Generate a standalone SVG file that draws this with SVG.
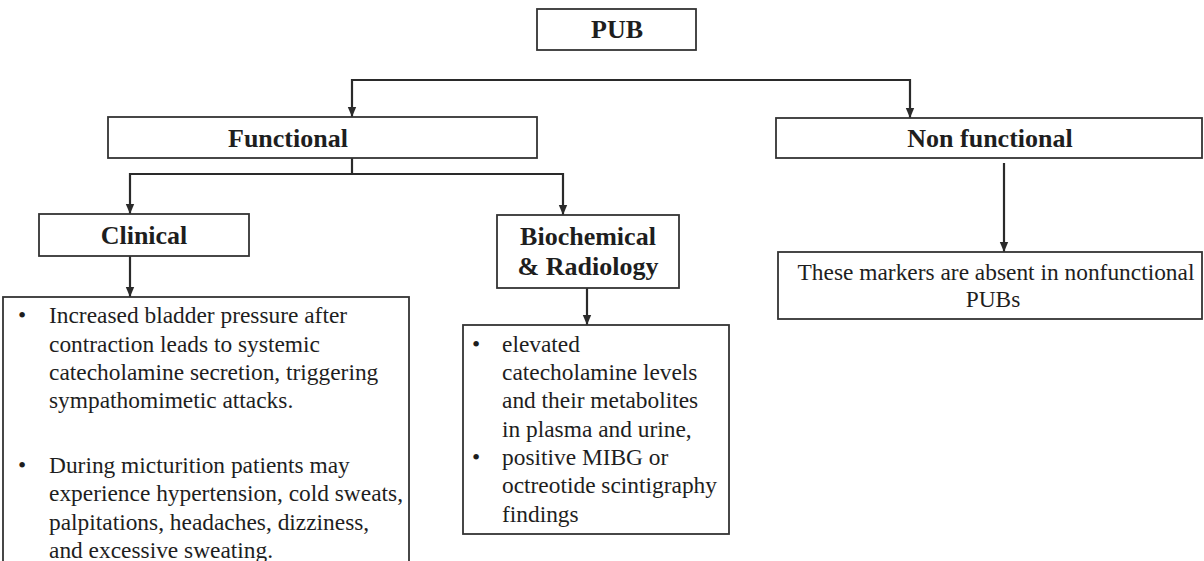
<svg xmlns="http://www.w3.org/2000/svg" width="1204" height="561" viewBox="0 0 1204 561">
<style>
.box{fill:#fff;stroke:#333;stroke-width:1.8}
.h{font-family:"Liberation Serif","Times New Roman",serif;font-weight:bold;font-size:26px;fill:#1e1e1e}
.t{font-family:"Liberation Serif","Times New Roman",serif;font-size:23.4px;fill:#1e1e1e}
.c{text-anchor:middle}
.ln{fill:none;stroke:#2a2a2a;stroke-width:2.2}
</style>
<defs>
<marker id="arr" markerUnits="userSpaceOnUse" markerWidth="10" markerHeight="10" viewBox="0 0 10 10" refX="10" refY="5" orient="auto">
<path d="M0,0.8 L10,5 L0,9.2 z" fill="#2a2a2a"/>
</marker>
</defs>
<rect width="1204" height="561" fill="#fff"/>
<g id="connectors">
<path class="ln" d="M631,80 H352 V117" marker-end="url(#arr)"/>
<path class="ln" d="M631,80 H910 V118" marker-end="url(#arr)"/>
<path class="ln" d="M352,158 V174"/>
<path class="ln" d="M352,174 H130 V214" marker-end="url(#arr)"/>
<path class="ln" d="M352,174 H563 V215" marker-end="url(#arr)"/>
<path class="ln" d="M130,256 V297" marker-end="url(#arr)"/>
<path class="ln" d="M587,288 V325" marker-end="url(#arr)"/>
<path class="ln" d="M1004,163 V252" marker-end="url(#arr)"/>
</g>
<g id="pub">
<rect class="box" x="537" y="9" width="159" height="41"/>
<text class="h c" x="617" y="38">PUB</text>
</g>
<g id="functional">
<rect class="box" x="108" y="117" width="429" height="41"/>
<text class="h" x="228" y="147">Functional</text>
</g>
<g id="nonfunctional">
<rect class="box" x="776" y="118" width="426" height="40"/>
<text class="h c" x="990" y="147">Non functional</text>
</g>
<g id="clinical">
<rect class="box" x="39" y="214" width="210" height="42"/>
<text class="h c" x="144" y="244">Clinical</text>
</g>
<g id="biochemical">
<rect class="box" x="497" y="215" width="182" height="73"/>
<text class="h c" x="588" y="245">Biochemical</text>
<text class="h c" x="588" y="275">&amp; Radiology</text>
</g>
<g id="clinical-list">
<rect class="box" x="3" y="297" width="406" height="280"/>
<text class="t" x="18" y="323">•</text>
<text class="t" x="49" y="323">Increased bladder pressure after</text>
<text class="t" x="49" y="352">contraction leads to systemic</text>
<text class="t" x="49" y="380">catecholamine secretion, triggering</text>
<text class="t" x="49" y="408">sympathomimetic attacks.</text>
<text class="t" x="18" y="473">•</text>
<text class="t" x="49" y="473">During micturition patients may</text>
<text class="t" x="49" y="501">experience hypertension, cold sweats,</text>
<text class="t" x="49" y="530">palpitations, headaches, dizziness,</text>
<text class="t" x="49" y="558">and excessive sweating.</text>
</g>
<g id="biochemical-list">
<rect class="box" x="463" y="325" width="266" height="209"/>
<text class="t" x="472" y="352">•</text>
<text class="t" x="502" y="352">elevated</text>
<text class="t" x="502" y="380">catecholamine levels</text>
<text class="t" x="502" y="408">and their metabolites</text>
<text class="t" x="502" y="437">in plasma and urine,</text>
<text class="t" x="472" y="465">•</text>
<text class="t" x="502" y="465">positive MIBG or</text>
<text class="t" x="502" y="493">octreotide scintigraphy</text>
<text class="t" x="502" y="522">findings</text>
</g>
<g id="nonfunctional-note">
<rect class="box" x="778" y="252" width="424" height="67"/>
<text class="t c" x="996" y="280">These markers are absent in nonfunctional</text>
<text class="t c" x="993" y="307">PUBs</text>
</g>
</svg>
